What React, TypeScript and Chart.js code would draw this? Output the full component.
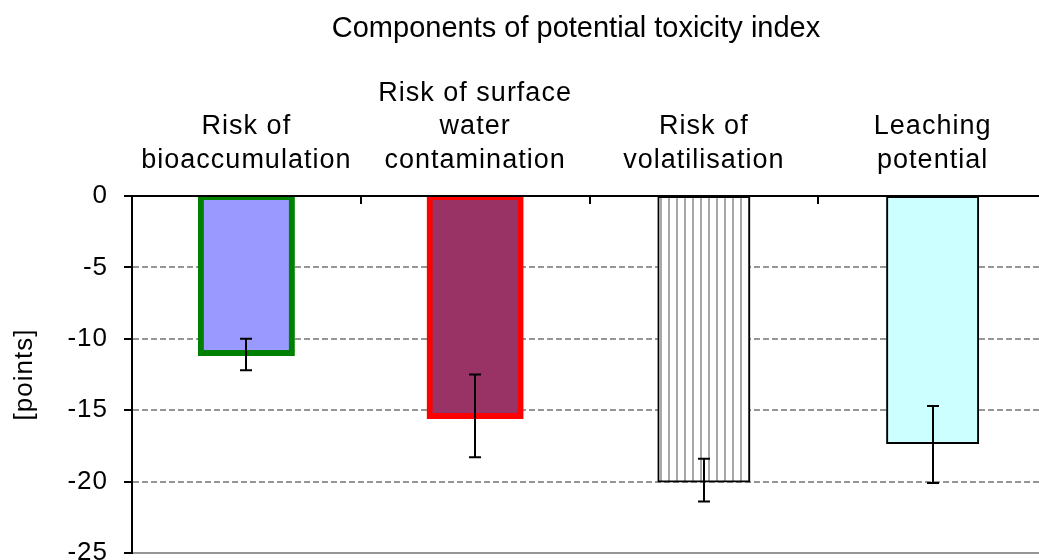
import React, { useEffect, useRef } from "react";
import { Chart, registerables } from "chart.js";

Chart.register(...registerables);

const chartTitle = "Components of potential toxicity index";
const categories: string[][] = [
  ["Risk of", "bioaccumulation"],
  ["Risk of surface", "water", "contamination"],
  ["Risk of", "volatilisation"],
  ["Leaching", "potential"],
];
const values = [-11.0, -15.4, -20.0, -17.3];
const errorHigh = [-10.0, -12.5, -18.4, -14.7];
const errorLow = [-12.2, -18.3, -21.4, -20.1];
const yTickValues = [-25, -20, -15, -10, -5, 0];
const yAxisTitle = "[points]";
const fillColors = ["#9999FF", "#993366", "stripes", "#CCFFFF"];
const borderColors = ["#008000", "#FF0000", "#000000", "#000000"];
const borderWidths = [6, 6, 2, 2];

const FONT = "'Liberation Sans', Arial, sans-serif";

export default function App() {
  const ref = useRef<HTMLCanvasElement>(null);

  useEffect(() => {
    const canvas = ref.current!;
    const pc = document.createElement("canvas");
    pc.width = 8;
    pc.height = 8;
    const pctx = pc.getContext("2d")!;
    pctx.fillStyle = "#ffffff";
    pctx.fillRect(0, 0, 8, 8);
    pctx.fillStyle = "#a8a8a8";
    pctx.fillRect(4, 0, 2, 8);
    const pattern = canvas.getContext("2d")!.createPattern(pc, "repeat")!;
    const bg = fillColors.map((c) => (c === "stripes" ? pattern : c));

    const decorations = {
      id: "decorations",
      beforeDraw(chart: any) {
        (chart.ctx as any).letterSpacing = "1px";
      },
      afterDatasetsDraw(chart: any) {
        const ctx = chart.ctx as CanvasRenderingContext2D;
        const meta = chart.getDatasetMeta(0);
        const ys = chart.scales.y;
        const xs = chart.scales.x;
        const area = chart.chartArea;
        ctx.save();
        ctx.strokeStyle = "#000";
        ctx.lineWidth = 2;
        meta.data.forEach((bar: any, i: number) => {
          const bx = Math.round(bar.x);
          const y1 = ys.getPixelForValue(errorHigh[i]);
          const y2 = ys.getPixelForValue(errorLow[i]);
          ctx.beginPath();
          ctx.moveTo(bx, y1);
          ctx.lineTo(bx, y2);
          ctx.moveTo(bx - 6, y1);
          ctx.lineTo(bx + 6, y1);
          ctx.moveTo(bx - 6, y2);
          ctx.lineTo(bx + 6, y2);
          ctx.stroke();
        });
        const top = area.top;
        for (let i = 0; i < categories.length - 1; i++) {
          const bx = Math.round((xs.getPixelForValue(i) + xs.getPixelForValue(i + 1)) / 2);
          ctx.beginPath();
          ctx.moveTo(bx, top);
          ctx.lineTo(bx, top + 8);
          ctx.stroke();
        }
        ctx.beginPath();
        ctx.moveTo(area.left, top);
        ctx.lineTo(area.right, top);
        ctx.stroke();
        ctx.restore();
      },
      afterDraw(chart: any) {
        const ctx = chart.ctx as any;
        ctx.save();
        ctx.letterSpacing = "0px";
        ctx.font = `29px ${FONT}`;
        ctx.fillStyle = "#000";
        ctx.textAlign = "center";
        ctx.textBaseline = "alphabetic";
        ctx.fillText(chartTitle, 576, 37);
        ctx.restore();
        ctx.letterSpacing = "0px";
      },
    };

    const chart = new Chart(canvas, {
      type: "bar",
      data: {
        labels: categories as any,
        datasets: [
          {
            data: values,
            backgroundColor: bg as any,
            borderColor: borderColors,
            borderWidth: borderWidths,
            borderSkipped: false,
            inflateAmount: borderWidths.map((w) => w / 2) as any,
            barPercentage: 0.398,
            categoryPercentage: 1,
            clip: 0 as any,
          } as any,
        ],
      },
      options: {
        responsive: false,
        animation: false,
        devicePixelRatio: 1,
        layout: { padding: { top: 0, left: 0, right: 13, bottom: 7 } },
        plugins: {
          legend: { display: false },
          tooltip: { enabled: false },
          title: { display: false },
        },
        scales: {
          x: {
            type: "category",
            position: "top",
            grid: { display: false, drawTicks: false },
            border: { display: true, color: "#000", width: 2 },
            ticks: {
              autoSkip: false,
              maxRotation: 0,
              minRotation: 0,
              padding: 19,
              color: "#000",
              font: { family: FONT, size: 27, lineHeight: 1.24 },
            },
            afterFit: (s: any) => {
              s.height = 196;
              s.paddingLeft = 0;
              s.paddingRight = 0;
              s.paddingTop = 0;
              s.paddingBottom = 0;
            },
          },
          y: {
            min: -25,
            max: 0,
            afterBuildTicks: (s: any) => {
              s.ticks = yTickValues.map((v) => ({ value: v }));
            },
            grid: {
              color: (c: any) => (c.tick && c.tick.value === 0 ? "#000" : "#969696"),
              lineWidth: 2,
              drawTicks: true,
              tickLength: 8,
              tickColor: "#000",
              tickWidth: 2,
              tickBorderDash: [],
            } as any,
            border: {
              display: true,
              color: "#000",
              width: 2,
              dash: (c: any) =>
                c.tick && (c.tick.value === 0 || c.tick.value === -25) ? [] : [6, 3],
            } as any,
            ticks: {
              padding: 16,
              color: "#000",
              font: { family: FONT, size: 26 },
            },
            title: {
              display: true,
              text: yAxisTitle,
              color: "#000",
              font: { family: FONT, size: 26 },
              padding: { top: 9, bottom: 0 },
            },
            afterFit: (s: any) => {
              s.width = 132;
              s.paddingTop = 0;
              s.paddingBottom = 0;
              s.paddingLeft = 0;
              s.paddingRight = 0;
            },
          },
        },
      } as any,
      plugins: [decorations],
    });

    return () => {
      chart.destroy();
    };
  }, []);

  return (
    <div
      style={{
        position: "absolute",
        left: 0,
        top: 0,
        width: 1039,
        height: 560,
        overflow: "hidden",
        background: "#fff",
      }}
    >
      <canvas ref={ref} width={1060} height={560} style={{ display: "block" }} />
    </div>
  );
}
